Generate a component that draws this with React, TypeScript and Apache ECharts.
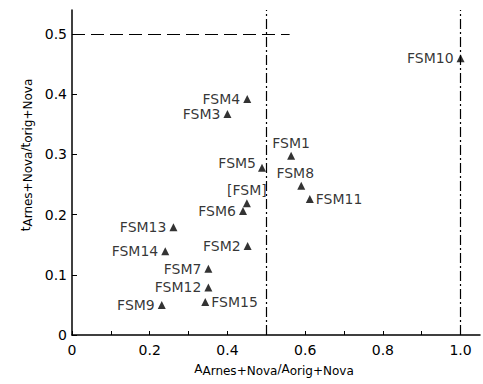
import React, { useEffect, useRef } from "react";
import * as echarts from "echarts";

const names = ["FSM1", "FSM2", "FSM3", "FSM4", "FSM5", "FSM6", "FSM7", "FSM8", "FSM9", "FSM10", "FSM11", "FSM12", "FSM13", "FSM14", "FSM15", "[FSM]"];
const xVals = [0.564, 0.452, 0.40, 0.451, 0.489, 0.44, 0.351, 0.590, 0.231, 1.0, 0.612, 0.351, 0.261, 0.24, 0.343, 0.45];
const yVals = [0.298, 0.148, 0.367, 0.392, 0.278, 0.206, 0.110, 0.248, 0.050, 0.46, 0.226, 0.079, 0.179, 0.139, 0.055, 0.219];
const xTicks = [0, 0.1, 0.2, 0.3, 0.4, 0.5, 0.6, 0.7, 0.8, 0.9, 1.0];
const xLabels = [0, 0.2, 0.4, 0.6, 0.8, 1.0];
const yTicks = [0, 0.1, 0.2, 0.3, 0.4, 0.5];
const hLineEnd = 0.56;

const labelPlacement: Record<string, any> = {
  FSM1: { position: "top", distance: 2 },
  FSM8: { position: "top", distance: 2, offset: [-6, 0] },
  FSM11: { position: "right", distance: 2 },
  FSM15: { position: "right", distance: 2 },
  "[FSM]": { position: "top", distance: 2 },
  FSM5: { position: "left", distance: 2, offset: [0, -5] },
};

const FONT = "DejaVu Sans";

export default function App() {
  const ref = useRef<HTMLDivElement>(null);
  useEffect(() => {
    document.body.style.margin = "0";
    const chart = echarts.init(ref.current!, undefined, { renderer: "svg" });
    const data = names.map((n, i) => ({
      name: n,
      value: [xVals[i], yVals[i]],
      label: labelPlacement[n] || { position: "left", distance: 3 },
    }));
    const fmt = (v: number) => (v === 0 ? "0" : v.toFixed(1));
    const richStyle = {
      m: { fontFamily: FONT, fontSize: 12, fill: "#000", lineHeight: 14, verticalAlign: "top" },
      s: { fontFamily: FONT, fontSize: 12, fill: "#000", lineHeight: 14, padding: [9, 0, 0, 0], verticalAlign: "bottom" },
    };
    chart.setOption({
      animation: false,
      grid: { left: 72, right: 3, top: 10, bottom: 49 },
      xAxis: {
        type: "value",
        min: 0,
        max: 1.05,
        interval: 0.1,
        axisLine: { lineStyle: { color: "#000", width: 1.5 } },
        axisTick: { inside: true, length: 4, customValues: xTicks, lineStyle: { color: "#000" } },
        axisLabel: { customValues: xLabels, formatter: fmt, color: "#000", fontFamily: FONT, fontSize: 14, margin: 8 },
        splitLine: { show: false },
      },
      yAxis: {
        type: "value",
        min: 0,
        max: 0.54,
        interval: 0.1,
        axisLine: { show: true, lineStyle: { color: "#000", width: 1.5 } },
        axisTick: { show: true, inside: true, length: 5, customValues: yTicks, lineStyle: { color: "#000" } },
        axisLabel: { customValues: yTicks, formatter: fmt, color: "#000", fontFamily: FONT, fontSize: 14, margin: 5 },
        splitLine: { show: false },
      },
      graphic: [
        {
          type: "text",
          x: 274,
          y: 370,
          style: {
            text: "{m|A}{s|Arnes+Nova}{m|/A}{s|orig+Nova}",
            align: "center",
            verticalAlign: "middle",
            rich: richStyle,
          },
        },
        {
          type: "text",
          x: 27,
          y: 155,
          rotation: Math.PI / 2,
          style: {
            text: "{m|t}{s|Arnes+Nova}{m|/t}{s|orig+Nova}",
            align: "center",
            verticalAlign: "middle",
            rich: richStyle,
          },
        },
      ],
      series: [
        {
          type: "scatter",
          symbol: "triangle",
          symbolSize: [8, 8],
          itemStyle: { color: "#000" },
          label: { show: true, formatter: "{b}", color: "#000", fontFamily: FONT, fontSize: 14 },
          data,
          markLine: {
            silent: true,
            symbol: "none",
            label: { show: false },
            data: [
              [
                { coord: [0, 0.5], lineStyle: { color: "#000", width: 1.2, type: [13, 6] } },
                { coord: [hLineEnd, 0.5] },
              ],
              { xAxis: 0.5, lineStyle: { color: "#000", width: 1.2, type: [10, 3, 2, 3] } },
              { xAxis: 1.0, lineStyle: { color: "#000", width: 1.2, type: [10, 3, 2, 3] } },
            ],
          },
        },
      ],
    });
    return () => chart.dispose();
  }, []);
  return <div ref={ref} style={{ width: 483, height: 384 }} />;
}
